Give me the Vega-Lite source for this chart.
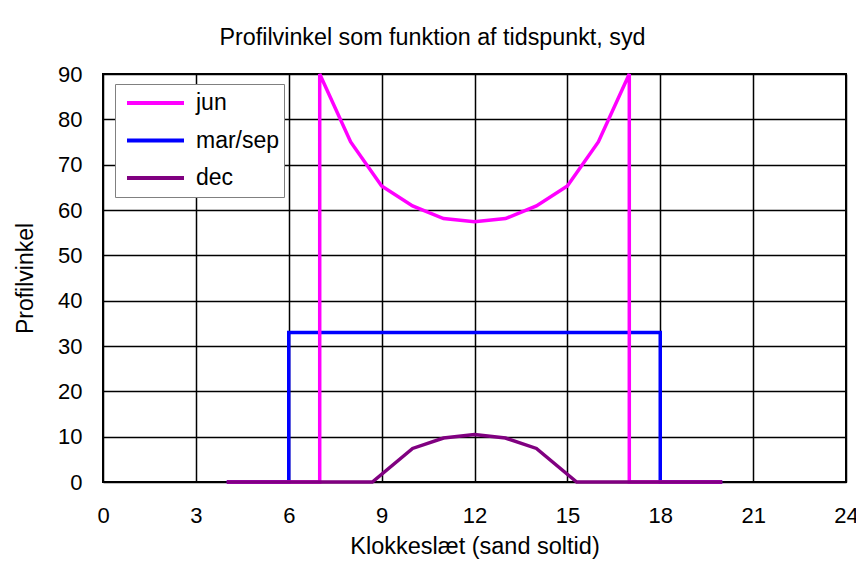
{
  "$schema": "https://vega.github.io/schema/vega-lite/v6.json",
  "autosize": "none",
  "width": 743,
  "height": 408,
  "padding": {"left": 103, "top": 74, "right": 10, "bottom": 86},
  "background": "white",
  "title": {
    "text": "Profilvinkel som funktion af tidspunkt, syd",
    "fontSize": 23.3,
    "font": "Liberation Sans",
    "fontWeight": "normal",
    "color": "black",
    "anchor": "middle",
    "frame": "group",
    "dx": -42,
    "offset": 13
  },
  "data": {
    "values": [
      {"s": "jun", "i": 1, "t": 4, "v": 0},
      {"s": "jun", "i": 2, "t": 5, "v": 0},
      {"s": "jun", "i": 3, "t": 6, "v": 0},
      {"s": "jun", "i": 4, "t": 7, "v": 0},
      {"s": "jun", "i": 5, "t": 7, "v": 90},
      {"s": "jun", "i": 6, "t": 8, "v": 75},
      {"s": "jun", "i": 7, "t": 9, "v": 65.3},
      {"s": "jun", "i": 8, "t": 10, "v": 60.9},
      {"s": "jun", "i": 9, "t": 11, "v": 58.1},
      {"s": "jun", "i": 10, "t": 12, "v": 57.4},
      {"s": "jun", "i": 11, "t": 13, "v": 58.1},
      {"s": "jun", "i": 12, "t": 14, "v": 60.9},
      {"s": "jun", "i": 13, "t": 15, "v": 65.3},
      {"s": "jun", "i": 14, "t": 16, "v": 75},
      {"s": "jun", "i": 15, "t": 17, "v": 90},
      {"s": "jun", "i": 16, "t": 17, "v": 0},
      {"s": "jun", "i": 17, "t": 18, "v": 0},
      {"s": "jun", "i": 18, "t": 19, "v": 0},
      {"s": "jun", "i": 19, "t": 20, "v": 0},
      {"s": "mar/sep", "i": 1, "t": 4, "v": 0},
      {"s": "mar/sep", "i": 2, "t": 5, "v": 0},
      {"s": "mar/sep", "i": 3, "t": 6, "v": 0},
      {"s": "mar/sep", "i": 4, "t": 6, "v": 33},
      {"s": "mar/sep", "i": 5, "t": 7, "v": 33},
      {"s": "mar/sep", "i": 6, "t": 8, "v": 33},
      {"s": "mar/sep", "i": 7, "t": 9, "v": 33},
      {"s": "mar/sep", "i": 8, "t": 10, "v": 33},
      {"s": "mar/sep", "i": 9, "t": 11, "v": 33},
      {"s": "mar/sep", "i": 10, "t": 12, "v": 33},
      {"s": "mar/sep", "i": 11, "t": 13, "v": 33},
      {"s": "mar/sep", "i": 12, "t": 14, "v": 33},
      {"s": "mar/sep", "i": 13, "t": 15, "v": 33},
      {"s": "mar/sep", "i": 14, "t": 16, "v": 33},
      {"s": "mar/sep", "i": 15, "t": 17, "v": 33},
      {"s": "mar/sep", "i": 16, "t": 18, "v": 33},
      {"s": "mar/sep", "i": 17, "t": 18, "v": 0},
      {"s": "mar/sep", "i": 18, "t": 19, "v": 0},
      {"s": "mar/sep", "i": 19, "t": 20, "v": 0},
      {"s": "dec", "i": 1, "t": 4, "v": 0},
      {"s": "dec", "i": 2, "t": 5, "v": 0},
      {"s": "dec", "i": 3, "t": 6, "v": 0},
      {"s": "dec", "i": 4, "t": 7, "v": 0},
      {"s": "dec", "i": 5, "t": 8, "v": 0},
      {"s": "dec", "i": 6, "t": 8.7, "v": 0},
      {"s": "dec", "i": 7, "t": 10, "v": 7.4},
      {"s": "dec", "i": 8, "t": 11, "v": 9.7},
      {"s": "dec", "i": 9, "t": 12, "v": 10.5},
      {"s": "dec", "i": 10, "t": 13, "v": 9.7},
      {"s": "dec", "i": 11, "t": 14, "v": 7.4},
      {"s": "dec", "i": 12, "t": 15.3, "v": 0},
      {"s": "dec", "i": 13, "t": 16, "v": 0},
      {"s": "dec", "i": 14, "t": 17, "v": 0},
      {"s": "dec", "i": 15, "t": 18, "v": 0},
      {"s": "dec", "i": 16, "t": 19, "v": 0},
      {"s": "dec", "i": 17, "t": 20, "v": 0}
    ]
  },
  "encoding": {
    "x": {
      "field": "t",
      "type": "quantitative",
      "title": "Klokkeslæt (sand soltid)",
      "scale": {"domain": [0, 24], "nice": false, "zero": false},
      "axis": {"values": [0, 3, 6, 9, 12, 15, 18, 21, 24]}
    },
    "y": {
      "field": "v",
      "type": "quantitative",
      "title": "Profilvinkel",
      "scale": {"domain": [0, 90], "nice": false},
      "axis": {"values": [0, 10, 20, 30, 40, 50, 60, 70, 80, 90]}
    },
    "color": {
      "field": "s",
      "type": "nominal",
      "title": null,
      "scale": {"domain": ["jun", "mar/sep", "dec"], "range": ["#FF00FF", "#0000FF", "#800080"]}
    },
    "order": {"field": "i", "type": "quantitative"}
  },
  "layer": [
    {"transform": [{"filter": "datum.s === 'mar/sep'"}], "mark": {"type": "line", "strokeWidth": 3.5, "strokeJoin": "miter", "strokeCap": "butt"}},
    {"transform": [{"filter": "datum.s === 'jun'"}], "mark": {"type": "line", "strokeWidth": 3.5, "strokeJoin": "miter", "strokeCap": "butt"}},
    {"transform": [{"filter": "datum.s === 'dec'"}], "mark": {"type": "line", "strokeWidth": 3.5, "strokeJoin": "miter", "strokeCap": "butt"}}
  ],
  "config": {
    "font": "Liberation Sans",
    "view": {"stroke": "black", "strokeWidth": 2},
    "axis": {
      "grid": true,
      "gridColor": "black",
      "gridWidth": 1.5,
      "gridOpacity": 1,
      "domain": false,
      "ticks": false,
      "labelFlush": false,
      "labelOverlap": false,
      "labelFont": "Liberation Sans",
      "labelFontSize": 22,
      "labelColor": "black",
      "titleFont": "Liberation Sans",
      "titleFontSize": 23.5,
      "titleFontWeight": "normal",
      "titleColor": "black"
    },
    "axisX": {"labelPadding": 23, "titlePadding": 8},
    "axisY": {"labelPadding": 21, "titlePadding": 20, "titleFontSize": 23},
    "legend": {
      "orient": "none",
      "legendX": 12,
      "legendY": 10,
      "strokeColor": "#808080",
      "fillColor": "white",
      "padding": 4,
      "symbolType": "M-0.8,0H1.1",
      "symbolSize": 3600,
      "symbolStrokeWidth": 4,
      "clipHeight": 30,
      "labelFont": "Liberation Sans",
      "labelFontSize": 23,
      "labelColor": "black",
      "labelOffset": 13,
      "rowPadding": 7.5
    }
  }
}
